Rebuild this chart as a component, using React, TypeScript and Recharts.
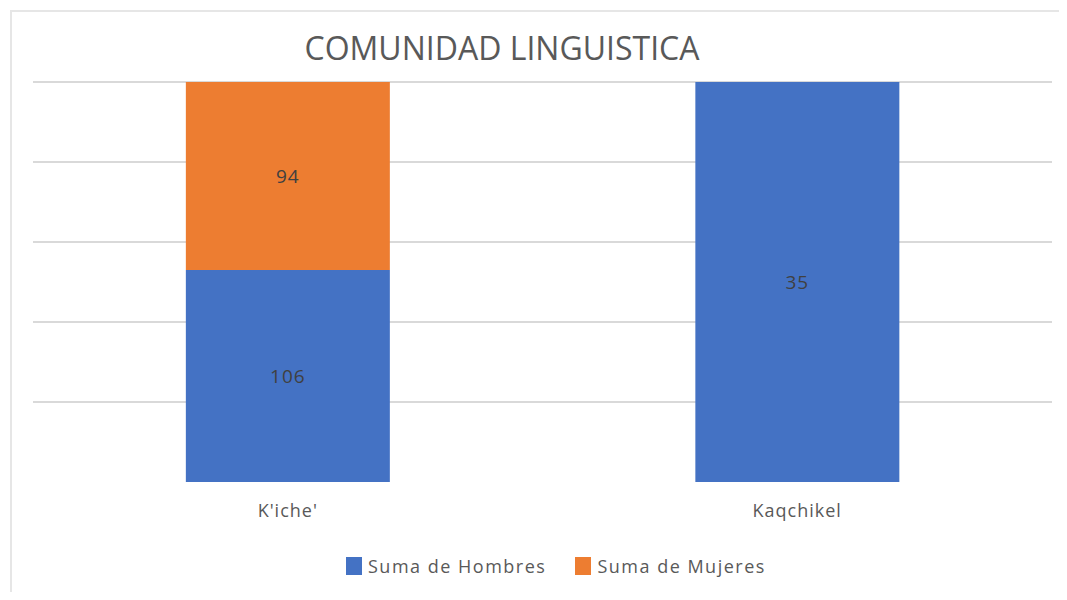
import React from 'react';
import { BarChart, Bar, XAxis, YAxis, CartesianGrid, LabelList } from 'recharts';

const categories = ["K'iche'", 'Kaqchikel'];
const hombres = [106, 35];
const mujeres = [94, 0];
const seriesNames = ['Suma de Hombres', 'Suma de Mujeres'];
const yTicks = [0, 0.2, 0.4, 0.6, 0.8, 1];

const COLORS = ['#4472C4', '#ED7D31'];
const FONT = '"Open Sans", sans-serif';

const data = categories.map((name, i) => ({
  name,
  hombres: hombres[i],
  mujeres: mujeres[i],
}));

// Kaqchikel has no women: don't print a "0" label
const hideZero = (v: any) => (v === 0 || v == null ? '' : v);

const labelStyle = { fill: '#404040', fontSize: 19, fontFamily: FONT, letterSpacing: 1 };

const App: React.FC = () => {
  return (
    <div style={{ position: 'relative', width: 1067, height: 600, margin: -8, overflow: 'hidden', background: '#fff' }}>
      <div
        style={{
          position: 'absolute',
          left: 10,
          top: 10,
          width: 1100,
          height: 640,
          borderTop: '2px solid #e6e6e6',
          borderLeft: '2px solid #e6e6e6',
        }}
      />
      <div
        style={{
          position: 'absolute',
          left: 0,
          width: 1004,
          top: 26,
          textAlign: 'center',
          fontFamily: FONT,
          fontSize: 32,
          color: '#595959',
        }}
      >
        COMUNIDAD LINGUISTICA
      </div>
      <div style={{ position: 'absolute', left: 0, top: 0 }}>
        <BarChart
          width={1067}
          height={600}
          data={data}
          stackOffset="expand"
          barCategoryGap="30%"
          margin={{ top: 82, right: 15, left: 33, bottom: 88 }}
        >
          <CartesianGrid
            vertical={false}
            stroke="#d9d9d9"
            strokeWidth={2}
            horizontalValues={yTicks.slice(1)}
          />
          <XAxis
            dataKey="name"
            axisLine={false}
            tickLine={false}
            height={30}
            tickMargin={16}
            tick={{ fill: '#595959', fontSize: 18, fontFamily: FONT, letterSpacing: 1 }}
          />
          <YAxis hide domain={[0, 1]} ticks={yTicks} />
          <Bar dataKey="hombres" stackId="a" fill={COLORS[0]} isAnimationActive={false}>
            <LabelList dataKey="hombres" position="center" formatter={hideZero} style={labelStyle} />
          </Bar>
          <Bar dataKey="mujeres" stackId="a" fill={COLORS[1]} isAnimationActive={false}>
            <LabelList dataKey="mujeres" position="center" formatter={hideZero} style={labelStyle} />
          </Bar>
        </BarChart>
      </div>
      <div
        style={{
          position: 'absolute',
          top: 554,
          left: 346,
          display: 'flex',
          alignItems: 'center',
          fontFamily: FONT,
          fontSize: 18,
          letterSpacing: 1.5,
          color: '#595959',
        }}
      >
        {seriesNames.map((s, i) => (
          <div key={s} style={{ display: 'flex', alignItems: 'center', marginRight: 29 }}>
            <span style={{ width: 16, height: 18, background: COLORS[i], marginRight: 6, display: 'inline-block' }} />
            <span>{s}</span>
          </div>
        ))}
      </div>
    </div>
  );
};

export default App;
